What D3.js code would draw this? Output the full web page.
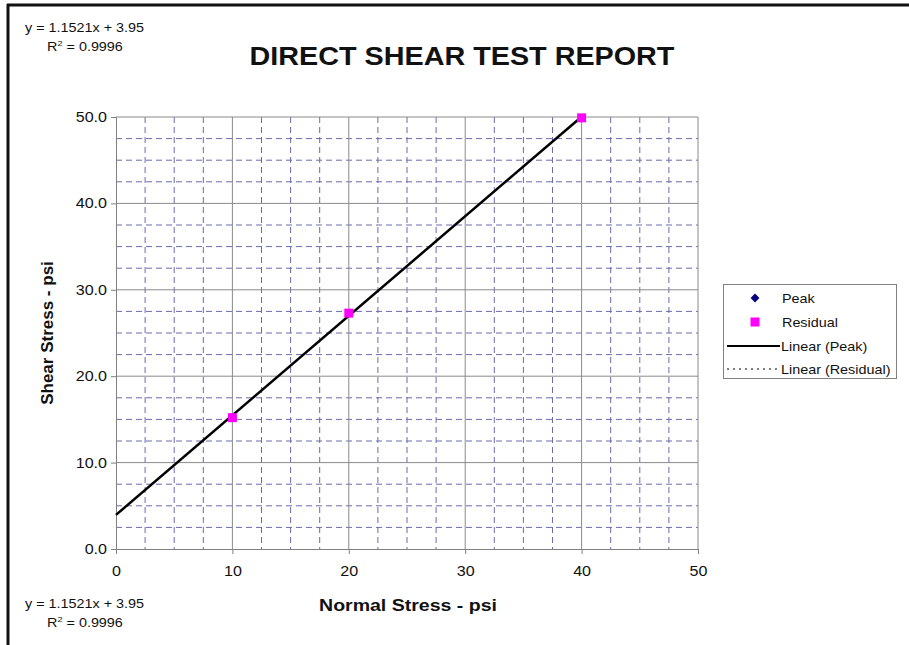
<!DOCTYPE html>
<html>
<head>
<meta charset="utf-8">
<script src="https://cdn.jsdelivr.net/npm/d3@7"></script>
<style>
  html, body { margin: 0; padding: 0; background: #fff; }
  svg { display: block; font-family: "Liberation Sans", Arial, sans-serif; }
</style>
</head>
<body>
<svg id="chart" width="909" height="645"></svg>
<script>
// Normal stress (psi) applied in each test
const normalStress = [10, 20, 40];
// Measured shear stress (psi)
const peakShear = [15.2, 27.3, 49.9];
const residualShear = [15.2, 27.3, 49.9];
// Least-squares trendline of the peak (and residual) results
const trendSlope = 1.1521;
const trendIntercept = 3.95;
const trendR2 = 0.9996;
// Axis ticks
const xTicks = [0, 10, 20, 30, 40, 50];
const yTicks = [0, 10, 20, 30, 40, 50];
const legendLabels = ["Peak", "Residual", "Linear (Peak)", "Linear (Residual)"];

// Text is drawn slightly wide, as on the printed report
const SX = 1.15;

const svg = d3.select("#chart");
const plot = { left: 116, right: 698, top: 117, bottom: 549 };

const x = d3.scaleLinear().domain([0, 50]).range([plot.left, plot.right]);
const y = d3.scaleLinear().domain([0, 50]).range([plot.bottom, plot.top]);

function wideText(parent, tx, ty, str, size, opts = {}) {
  return parent.append("text")
    .attr("transform", `translate(${tx},${ty}) scale(${SX},1)`)
    .attr("text-anchor", opts.anchor || "start")
    .style("font-size", size + "px")
    .style("font-weight", opts.bold ? "bold" : "normal")
    .attr("fill", "#111")
    .text(str);
}

// Page frame (top and left rules)
svg.append("line").attr("x1", 7).attr("x2", 909).attr("y1", 5).attr("y2", 5)
  .attr("stroke", "#111").attr("stroke-width", 3);
svg.append("line").attr("x1", 8).attr("x2", 8).attr("y1", 4).attr("y2", 645)
  .attr("stroke", "#111").attr("stroke-width", 3);

// Minor dashed grid every 2.5 psi
const minor = d3.range(2.5, 50, 2.5).filter(v => v % 10 !== 0);
const grid = svg.append("g");
grid.selectAll("line.mx").data(minor).join("line")
  .attr("x1", d => x(d)).attr("x2", d => x(d))
  .attr("y1", plot.top).attr("y2", plot.bottom)
  .attr("stroke", "#6b6bb0").attr("stroke-width", 1).attr("stroke-dasharray", "6,4");
grid.selectAll("line.my").data(minor).join("line")
  .attr("x1", plot.left).attr("x2", plot.right)
  .attr("y1", d => y(d)).attr("y2", d => y(d))
  .attr("stroke", "#6b6bb0").attr("stroke-width", 1).attr("stroke-dasharray", "6,4");

// Major solid grid every 10 psi
grid.selectAll("line.Mx").data(xTicks.slice(1)).join("line")
  .attr("x1", d => x(d)).attr("x2", d => x(d))
  .attr("y1", plot.top).attr("y2", plot.bottom)
  .attr("stroke", "#8a8a8a").attr("stroke-width", 1);
grid.selectAll("line.My").data(yTicks.slice(1)).join("line")
  .attr("x1", plot.left).attr("x2", plot.right)
  .attr("y1", d => y(d)).attr("y2", d => y(d))
  .attr("stroke", "#8a8a8a").attr("stroke-width", 1);

// Axes
const xAxis = svg.append("g").attr("transform", `translate(0,${plot.bottom})`)
  .call(d3.axisBottom(x).tickValues(xTicks).tickSize(5).tickPadding(12).tickFormat(d3.format("d")));
const yAxis = svg.append("g").attr("transform", `translate(${plot.left},0)`)
  .call(d3.axisLeft(y).tickValues(yTicks).tickSize(5).tickPadding(4).tickFormat(d3.format(".1f")));
[xAxis, yAxis].forEach(a => {
  a.select(".domain").attr("stroke", "#808080");
  a.selectAll(".tick line").attr("stroke", "#808080");
  a.selectAll(".tick text").attr("fill", "#111").style("font-size", "14px")
    .style("font-family", "'Liberation Sans', Arial, sans-serif")
    .attr("transform", `scale(${SX},1)`);
});
yAxis.selectAll(".tick text").attr("x", -9 / SX);

// Trendlines
const trendX = [0, d3.max(normalStress)];
const line = d3.line().x(d => x(d)).y(d => y(trendSlope * d + trendIntercept));
svg.append("path").datum(trendX).attr("d", line)
  .attr("fill", "none").attr("stroke", "#000").attr("stroke-width", 1).attr("stroke-dasharray", "2,3");
svg.append("path").datum(trendX).attr("d", line)
  .attr("fill", "none").attr("stroke", "#000").attr("stroke-width", 2.5);

// Markers
const diamond = d3.symbol().type(d3.symbolDiamond2).size(38);
svg.append("g").selectAll("path").data(normalStress).join("path")
  .attr("transform", (d, i) => `translate(${x(d)},${y(peakShear[i])})`)
  .attr("d", diamond).attr("fill", "#000080");
svg.append("g").selectAll("rect").data(normalStress).join("rect")
  .attr("x", (d, i) => x(d) - 4.5).attr("y", (d, i) => y(residualShear[i]) - 4.5)
  .attr("width", 9).attr("height", 9).attr("fill", "#ff00ff");

// Title and axis titles
wideText(svg, 462, 65, "DIRECT SHEAR TEST REPORT", 25, { anchor: "middle", bold: true });
wideText(svg, 408, 611, "Normal Stress - psi", 17, { anchor: "middle", bold: true });
svg.append("text").attr("transform", "translate(53,333) rotate(-90)").attr("text-anchor", "middle")
  .style("font-size", "17px").style("font-weight", "bold").attr("fill", "#111").text("Shear Stress - psi");

// Trendline equation labels
function equation(ty) {
  const g = svg.append("g");
  wideText(g, 25, ty, `y = ${trendSlope}x + ${trendIntercept}`, 12.5);
  const r = g.append("text").attr("transform", `translate(47,${ty + 19}) scale(${SX},1)`)
    .style("font-size", "12.5px").attr("fill", "#111");
  r.append("tspan").text("R");
  r.append("tspan").attr("dy", -5).style("font-size", "8px").text("2");
  r.append("tspan").attr("dy", 5).text(` = ${trendR2}`);
}
equation(32);
equation(608);

// Legend
const lg = svg.append("g");
lg.append("rect").attr("x", 723.5).attr("y", 284.5).attr("width", 173).attr("height", 94)
  .attr("fill", "#fff").attr("stroke", "#808080");
const rowY = [298, 322, 346, 369];
lg.append("path").attr("transform", `translate(755,${rowY[0]})`)
  .attr("d", d3.symbol().type(d3.symbolDiamond2).size(50)).attr("fill", "#000080");
lg.append("rect").attr("x", 750.5).attr("y", rowY[1] - 4.5).attr("width", 9).attr("height", 9).attr("fill", "#ff00ff");
lg.append("line").attr("x1", 727).attr("x2", 780).attr("y1", rowY[2]).attr("y2", rowY[2])
  .attr("stroke", "#000").attr("stroke-width", 2);
lg.append("line").attr("x1", 727).attr("x2", 780).attr("y1", rowY[3]).attr("y2", rowY[3])
  .attr("stroke", "#000").attr("stroke-width", 1.2).attr("stroke-dasharray", "2,4");
legendLabels.forEach((d, i) => wideText(lg, i < 2 ? 782 : 781, rowY[i] + 4.5, d, 12.5));
</script>
</body>
</html>
